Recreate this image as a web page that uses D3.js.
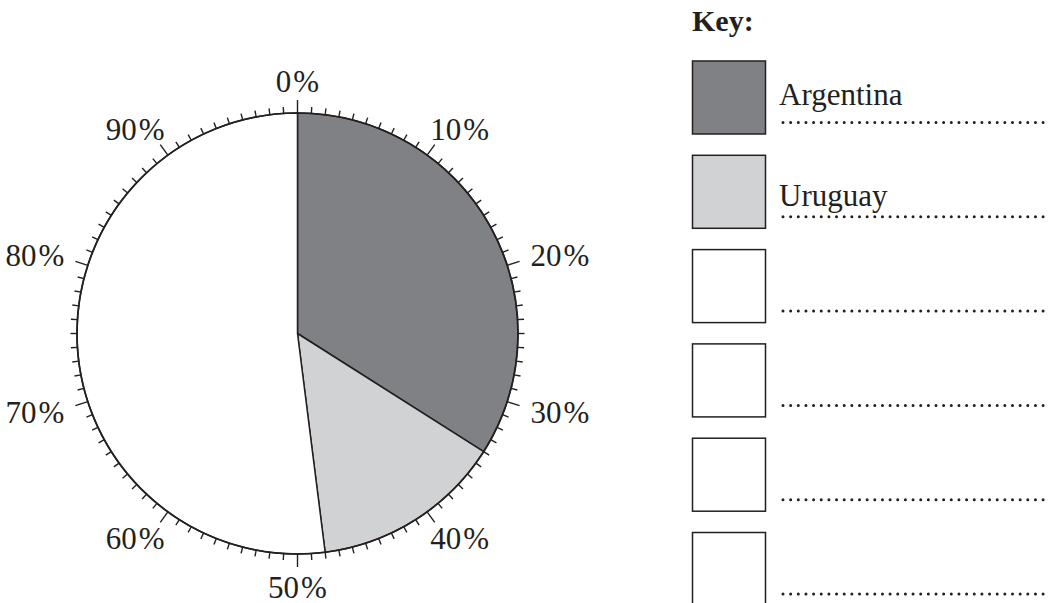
<!DOCTYPE html>
<html>
<head>
<meta charset="utf-8">
<script src="https://cdn.jsdelivr.net/npm/d3@7"></script>
<style>
  html, body { margin: 0; padding: 0; background: #fff; }
  svg { display: block; }
  text { font-family: "Liberation Serif", "Times New Roman", serif; fill: #231f20; }
</style>
</head>
<body>
<svg id="chart" width="1056" height="603"></svg>
<script>
// ---- data ----
const categories = ["Argentina", "Uruguay", ""];
const values = [34, 14, 52];
const sliceColors = ["#808185", "#d1d2d4", "#ffffff"];
const keyLabels = ["Argentina", "Uruguay", "", "", "", ""];
const keyColors = ["#808185", "#d1d2d4", "#ffffff", "#ffffff", "#ffffff", "#ffffff"];
const tickLabels = ["0", "10", "20", "30", "40", "50", "60", "70", "80", "90"];

// ---- layout ----
const svg = d3.select("#chart");
const cx = 297.5, cy = 333.5, r = 220.5;
const ink = "#231f20";

const g = svg.append("g").attr("transform", `translate(${cx},${cy})`);

// percent scale -> angle
const pct = d3.scaleLinear().domain([0, 100]).range([0, 2 * Math.PI]);

const pie = d3.pie().sort(null).value(d => d).startAngle(0).endAngle(2 * Math.PI);
const arc = d3.arc().innerRadius(0).outerRadius(r);

g.selectAll("path.slice")
  .data(pie(values))
  .join("path")
  .attr("class", "slice")
  .attr("d", arc)
  .attr("fill", (d, i) => sliceColors[i])
  .attr("stroke", ink)
  .attr("stroke-width", 1.5)
  .attr("stroke-linejoin", "round");

// outline circle
g.append("circle").attr("r", r).attr("fill", "none").attr("stroke", ink).attr("stroke-width", 1.7);

// ticks
const ticks = d3.range(0, 100);
g.selectAll("line.tick")
  .data(ticks)
  .join("line")
  .attr("class", "tick")
  .each(function(d) {
    const a = pct(d);
    const len = d % 10 === 0 ? 13 : 6.5;
    d3.select(this)
      .attr("x1", r * Math.sin(a)).attr("y1", -r * Math.cos(a))
      .attr("x2", (r + len) * Math.sin(a)).attr("y2", -(r + len) * Math.cos(a));
  })
  .attr("stroke", ink)
  .attr("stroke-width", 1.4);

// tick labels
const lrx = 276, lry = 253;
const lab = g.selectAll("text.plab")
  .data(tickLabels)
  .join("text")
  .attr("class", "plab")
  .attr("x", d => lrx * Math.sin(pct(+d)))
  .attr("y", d => -lry * Math.cos(pct(+d)))
  .attr("text-anchor", "middle")
  .attr("dominant-baseline", "central")
  .attr("font-size", 31);
lab.append("tspan").text(d => d);
lab.append("tspan").attr("dx", 2).text("%");

// ---- key ----
const keyX = 692, keyTop = 61, keyStep = 94.3, boxSize = 74;
svg.append("text")
  .attr("x", keyX).attr("y", 30.5)
  .attr("font-size", 30).attr("font-weight", "bold")
  .text("Key:");

const rowY = d3.scaleLinear().domain([0, 1]).range([keyTop, keyTop + keyStep]);
const rows = svg.selectAll("g.key")
  .data(keyLabels)
  .join("g")
  .attr("class", "key")
  .attr("transform", (d, i) => `translate(${keyX},${rowY(i)})`);

rows.append("rect")
  .attr("x", 0.5).attr("y", 0)
  .attr("width", boxSize - 1).attr("height", boxSize - 1)
  .attr("fill", (d, i) => keyColors[i])
  .attr("stroke", ink).attr("stroke-width", 1.5);

rows.append("text")
  .attr("x", 87).attr("y", (d, i) => i === 0 ? 44 : 51)
  .attr("font-size", 31)
  .text(d => d);

rows.append("line")
  .attr("x1", 91).attr("x2", 358)
  .attr("y1", 61.5).attr("y2", 61.5)
  .attr("stroke", ink)
  .attr("stroke-width", 3)
  .attr("stroke-linecap", "round")
  .attr("stroke-dasharray", "0 7.65");
</script>
</body>
</html>
